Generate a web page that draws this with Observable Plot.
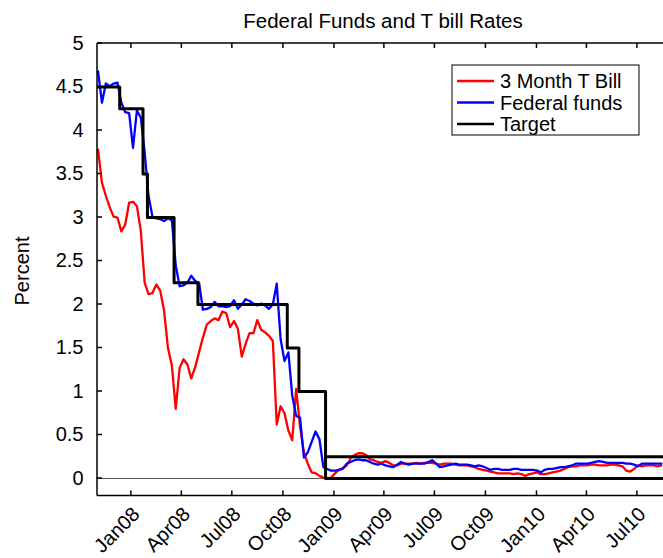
<!DOCTYPE html>
<html><head><meta charset="utf-8">
<script src="https://cdn.jsdelivr.net/npm/d3@7"></script>
<script src="https://cdn.jsdelivr.net/npm/@observablehq/plot@0.6"></script>
<style>body{margin:0;background:#fff} svg{display:block}</style>
</head><body><div id="chart"></div>
<script>
const dates = [
"2007-11-02","2007-11-09","2007-11-16","2007-11-23","2007-11-30",
"2007-12-07","2007-12-14","2007-12-21","2007-12-28",
"2008-01-04","2008-01-11","2008-01-18","2008-01-25",
"2008-02-01","2008-02-08","2008-02-15","2008-02-22","2008-02-29",
"2008-03-07","2008-03-14","2008-03-21","2008-03-28",
"2008-04-04","2008-04-11","2008-04-18","2008-04-25",
"2008-05-02","2008-05-09","2008-05-16","2008-05-23","2008-05-30",
"2008-06-06","2008-06-13","2008-06-20","2008-06-27",
"2008-07-04","2008-07-11","2008-07-18","2008-07-25",
"2008-08-01","2008-08-08","2008-08-15","2008-08-22","2008-08-29",
"2008-09-05","2008-09-12","2008-09-19","2008-09-26",
"2008-10-03","2008-10-10","2008-10-17","2008-10-24","2008-10-31",
"2008-11-07","2008-11-14","2008-11-21","2008-11-28",
"2008-12-05","2008-12-12","2008-12-19","2008-12-26",
"2009-01-02","2009-01-09","2009-01-16","2009-01-23","2009-01-30",
"2009-02-06","2009-02-13","2009-02-20","2009-02-27",
"2009-03-06","2009-03-13","2009-03-20","2009-03-27",
"2009-04-03","2009-04-10","2009-04-17","2009-04-24",
"2009-05-01","2009-05-08","2009-05-15","2009-05-22","2009-05-29",
"2009-06-05","2009-06-12","2009-06-19","2009-06-26",
"2009-07-03","2009-07-10","2009-07-17","2009-07-24","2009-07-31",
"2009-08-07","2009-08-14","2009-08-21","2009-08-28",
"2009-09-04","2009-09-11","2009-09-18","2009-09-25",
"2009-10-02","2009-10-09","2009-10-16","2009-10-23","2009-10-30",
"2009-11-06","2009-11-13","2009-11-20","2009-11-27",
"2009-12-04","2009-12-11","2009-12-18","2009-12-25",
"2010-01-01","2010-01-08","2010-01-15","2010-01-22","2010-01-29",
"2010-02-05","2010-02-12","2010-02-19","2010-02-26",
"2010-03-05","2010-03-12","2010-03-19","2010-03-26",
"2010-04-02","2010-04-09","2010-04-16","2010-04-23","2010-04-30",
"2010-05-07","2010-05-14","2010-05-21","2010-05-28",
"2010-06-04","2010-06-11","2010-06-18","2010-06-25",
"2010-07-02","2010-07-09","2010-07-16","2010-07-23","2010-07-30",
"2010-08-06","2010-08-13"
];
const tbill = [
3.78,3.40,3.25,3.12,3.01,3.00,2.84,2.92,3.17,3.18,
3.13,2.85,2.25,2.12,2.13,2.23,2.16,1.93,1.50,1.30,
0.80,1.27,1.37,1.31,1.15,1.28,1.45,1.62,1.77,1.81,
1.84,1.82,1.92,1.90,1.74,1.81,1.72,1.40,1.55,1.67,
1.67,1.82,1.71,1.68,1.64,1.58,0.62,0.83,0.75,0.55,
0.44,1.03,0.60,0.30,0.17,0.07,0.06,0.03,0.01,0.00,
0.01,0.06,0.10,0.12,0.15,0.23,0.27,0.29,0.29,0.27,
0.22,0.21,0.19,0.18,0.20,0.18,0.15,0.15,0.17,0.17,
0.17,0.17,0.18,0.17,0.18,0.18,0.18,0.17,0.16,0.17,
0.17,0.17,0.16,0.15,0.15,0.15,0.14,0.13,0.11,0.10,
0.09,0.08,0.07,0.06,0.06,0.06,0.06,0.05,0.06,0.05,
0.03,0.05,0.06,0.07,0.05,0.05,0.06,0.07,0.08,0.09,
0.11,0.13,0.14,0.14,0.15,0.15,0.15,0.16,0.16,0.15,
0.15,0.15,0.16,0.16,0.15,0.14,0.09,0.08,0.11,0.15,
0.14,0.15,0.15,0.15,0.14,0.15
];
const fedFunds = [
4.68,4.32,4.54,4.51,4.54,4.55,4.32,4.21,4.20,3.80,
4.23,4.15,3.75,3.25,3.01,2.99,2.98,2.96,2.99,2.97,
2.45,2.21,2.22,2.25,2.33,2.27,2.25,1.94,1.95,1.97,
2.03,1.98,1.98,1.97,1.98,2.05,1.95,2.00,2.06,2.04,
2.01,1.99,2.01,1.99,1.95,2.00,2.24,1.60,1.35,1.45,
0.95,0.72,0.70,0.24,0.30,0.42,0.54,0.45,0.13,0.11,
0.09,0.09,0.10,0.11,0.17,0.19,0.21,0.22,0.21,0.21,
0.19,0.17,0.16,0.17,0.15,0.14,0.13,0.16,0.19,0.17,
0.16,0.17,0.17,0.17,0.17,0.19,0.21,0.17,0.13,0.14,
0.15,0.16,0.17,0.16,0.16,0.16,0.15,0.14,0.15,0.14,
0.12,0.10,0.11,0.11,0.10,0.10,0.10,0.11,0.11,0.10,
0.10,0.10,0.10,0.09,0.07,0.10,0.11,0.11,0.12,0.13,
0.13,0.14,0.15,0.17,0.17,0.17,0.17,0.18,0.19,0.20,
0.19,0.18,0.18,0.18,0.18,0.18,0.17,0.17,0.16,0.14,
0.17,0.17,0.17,0.17,0.17,0.17
];
const targetDates = ["2007-11-01","2007-12-11","2008-01-22","2008-01-30","2008-03-18","2008-04-30","2008-10-08","2008-10-29","2008-12-16","2010-08-17"];
const targetValues = [4.5,4.25,3.5,3.0,2.25,2.0,1.5,1.0,0,0];
const targetUpperDates = ["2008-12-16","2010-08-17"];
const targetUpperValues = [0.25,0.25];
const xTicks = ["2008-01-01","2008-04-01","2008-07-01","2008-10-01","2009-01-01","2009-04-01","2009-07-01","2009-10-01","2010-01-01","2010-04-01","2010-07-01"];
const xTickLabels = ["Jan08","Apr08","Jul08","Oct08","Jan09","Apr09","Jul09","Oct09","Jan10","Apr10","Jul10"];
const yTicks = [0,0.5,1,1.5,2,2.5,3,3.5,4,4.5,5];
const seriesNames = ["3 Month T Bill","Federal funds","Target"];
const seriesColors = ["#ff0000","#0000ff","#000000"];
const titleText = "Federal Funds and T bill Rates";
const yLabel = "Percent";

const parse = d3.utcParse("%Y-%m-%d");
const rates = dates.map((d, i) => ({date: parse(d), tbill: tbill[i], ff: fedFunds[i]}));
const target = targetDates.map((d, i) => ({date: parse(d), v: targetValues[i]}));
const targetUpper = targetUpperDates.map((d, i) => ({date: parse(d), v: targetUpperValues[i]}));
const xTickDates = xTicks.map(parse);

const W = 663, H = 558, mL = 97, mT = 43, mB = 62.6;
const font = "'Liberation Sans', Arial, Helvetica, sans-serif";

const plot = Plot.plot({
  width: W, height: H,
  marginLeft: mL, marginRight: 0, marginTop: mT, marginBottom: mB,
  style: {fontFamily: font, fontSize: "20px", color: "#000", background: "#fff", overflow: "visible"},
  x: {type: "utc", domain: [parse("2007-11-01"), parse("2010-08-17")]},
  y: {domain: [-0.2, 5]},
  marks: [
    Plot.ruleY([0], {stroke: "#555", strokeWidth: 1}),
    Plot.line(rates, {x: "date", y: "tbill", stroke: seriesColors[0], strokeWidth: 2.3, clip: true}),
    Plot.line(rates, {x: "date", y: "ff", stroke: seriesColors[1], strokeWidth: 2.3, clip: true}),
    Plot.line(target, {x: "date", y: "v", curve: "step-after", stroke: seriesColors[2], strokeWidth: 3, clip: true}),
    Plot.line(targetUpper, {x: "date", y: "v", stroke: seriesColors[2], strokeWidth: 3, clip: true}),
    Plot.axisX({ticks: xTickDates, tickFormat: d => xTickLabels[xTickDates.findIndex(t => +t === +d)],
      tickSize: 0, tickRotate: -45, tickPadding: 15, dx: 5, label: null, fontSize: 20}),
    Plot.axisY({ticks: yTicks, tickFormat: d => String(d), tickSize: 0, tickPadding: 14, label: null, fontSize: 20})
  ]
});

const svg = d3.select(plot);
const sx = plot.scale("x"), sy = plot.scale("y");
const frameTop = mT, frameBottom = H - mB, tl = 5;
const g = svg.append("g").attr("stroke", "#000").attr("stroke-width", 1.5);
g.append("line").attr("x1", mL).attr("x2", W).attr("y1", frameTop).attr("y2", frameTop);
g.append("line").attr("x1", mL).attr("x2", W).attr("y1", frameBottom).attr("y2", frameBottom);
g.append("line").attr("x1", mL).attr("x2", mL).attr("y1", frameTop).attr("y2", frameBottom);
for (const t of xTickDates) {
  const x = sx.apply(t);
  g.append("line").attr("x1", x).attr("x2", x).attr("y1", frameBottom).attr("y2", frameBottom - tl);
  g.append("line").attr("x1", x).attr("x2", x).attr("y1", frameTop).attr("y2", frameTop + tl);
}
for (const v of yTicks) {
  const y = sy.apply(v);
  g.append("line").attr("x1", mL).attr("x2", mL + tl).attr("y1", y).attr("y2", y);
}
svg.append("text").attr("x", 383).attr("y", 28).attr("text-anchor", "middle")
  .attr("font-family", font).attr("font-size", 20.5).attr("fill", "#000").text(titleText);
svg.append("text").attr("transform", "translate(29,271) rotate(-90)").attr("text-anchor", "middle")
  .attr("font-family", font).attr("font-size", 20).attr("fill", "#000").text(yLabel);
const lg = svg.append("g");
lg.append("rect").attr("x", 452).attr("y", 65).attr("width", 187).attr("height", 70)
  .attr("fill", "#fff").attr("stroke", "#000").attr("stroke-width", 1);
seriesNames.forEach((name, i) => {
  const y = 81 + i * 21.5;
  lg.append("line").attr("x1", 457).attr("x2", 494).attr("y1", y).attr("y2", y)
    .attr("stroke", seriesColors[i]).attr("stroke-width", 2.3);
  lg.append("text").attr("x", 500).attr("y", y).attr("dy", "0.35em").attr("text-anchor", "start")
    .attr("font-family", font).attr("font-size", 20).attr("fill", "#000").text(name);
});

document.getElementById("chart").appendChild(plot);
</script>
</body></html>
